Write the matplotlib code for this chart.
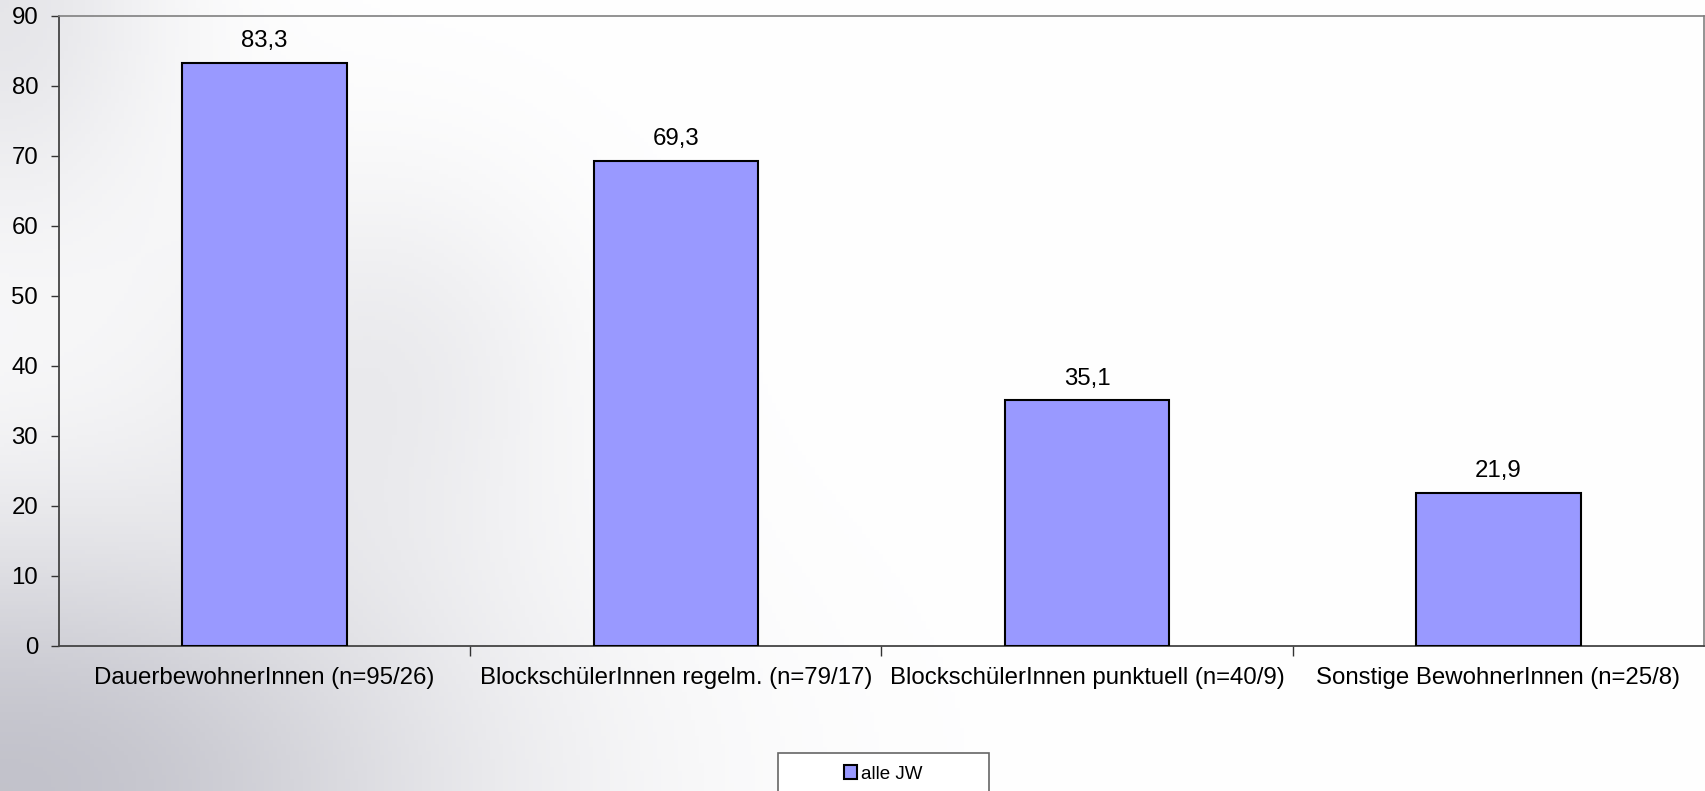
import numpy as np
import matplotlib
matplotlib.use("Agg")
import matplotlib.pyplot as plt
from matplotlib.patches import Rectangle

plt.rcParams["font.family"] = ["Liberation Sans", "DejaVu Sans"]

categories = [
    "DauerbewohnerInnen (n=95/26)",
    "BlockschülerInnen regelm. (n=79/17)",
    "BlockschülerInnen punktuell (n=40/9)",
    "Sonstige BewohnerInnen (n=25/8)",
]
values = [83.3, 69.3, 35.1, 21.9]
series_name = "alle JW"
y_ticks = [0, 10, 20, 30, 40, 50, 60, 70, 80, 90]

W, H = 1706, 791
fig = plt.figure(figsize=(W / 100, H / 100), dpi=100)

# soft grey backdrop, darker toward the left
bg = fig.add_axes([0, 0, 1, 1], zorder=-10)
xx, yy = np.meshgrid(np.linspace(0, 1, 400), np.linspace(0, 1, 200))
shade = np.exp(-((xx / 0.28) ** 2 + ((1 - yy) / 0.35) ** 2)) * 0.85
shade += np.exp(-((xx / 0.10) ** 2 + (yy / 0.30) ** 2)) * 0.35
shade += np.exp(-(((xx - 0.22) / 0.12) ** 2 + ((yy - 0.45) / 0.25) ** 2)) * 0.25
shade = np.clip(shade, 0, 1)
rgb = np.ones((200, 400, 3))
grey = np.array([0.72, 0.72, 0.76])
rgb = rgb * (1 - shade[..., None]) + grey * shade[..., None]
bg.imshow(rgb, extent=[0, 1, 0, 1], aspect="auto", origin="upper")
bg.set_axis_off()

ax = fig.add_axes([59 / W, (H - 646) / H, 1645 / W, 630 / H])
ax.patch.set_alpha(0)

x = np.arange(len(categories))
bars = ax.bar(x, values, width=0.4, color="#9999FF", edgecolor="black",
              linewidth=1.5, label=series_name, zorder=3)

for xi, v in zip(x, values):
    ax.annotate(f"{v:.1f}".replace(".", ","), (xi, v), xytext=(0, 7.5),
                textcoords="offset points", ha="center", va="bottom",
                fontsize=17.3, color="black")

ax.set_xlim(-0.5, len(categories) - 0.5)
ax.set_ylim(0, 90)
ax.set_yticks(y_ticks)
ax.tick_params(axis="y", labelsize=17.3, length=6, width=1, pad=9,
               direction="out", color="#333333")

# category labels centred, tick marks at category boundaries
ax.set_xticks(x)
ax.set_xticklabels(categories, fontsize=17.3)
ax.tick_params(axis="x", which="major", length=0, pad=15)
ax.set_xticks(np.arange(0.5, len(categories) - 0.5, 1.0), minor=True)
ax.tick_params(axis="x", which="minor", length=7, width=1,
               direction="out", color="#333333")

for side in ("left", "bottom"):
    ax.spines[side].set_color("#444444")
    ax.spines[side].set_linewidth(1.3)
for side in ("top", "right"):
    ax.spines[side].set_color("#808080")
    ax.spines[side].set_linewidth(1.2)

# legend with its box reaching past the lower edge
box = Rectangle((778 / W, -0.05), (989 - 778) / W, 0.05 + (H - 753) / H,
                transform=fig.transFigure, facecolor="white",
                edgecolor="#666666", linewidth=1.2, zorder=5)
fig.patches.append(box)
leg = fig.legend(handles=[bars], labels=[series_name], loc="center",
                 bbox_to_anchor=(883.5 / W, (H - 774) / H), frameon=False,
                 fontsize=13.5, handlelength=0.7, handleheight=0.7,
                 handletextpad=0.2)
leg.set_zorder(6)

fig.savefig("out.png", dpi=100)
